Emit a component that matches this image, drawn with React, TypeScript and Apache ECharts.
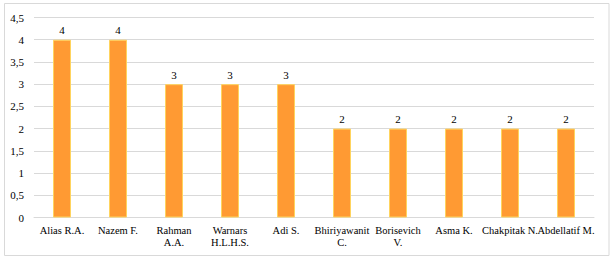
import React, { useEffect, useRef } from "react";
import * as echarts from "echarts";

const categories = [
  "Alias R.A.",
  "Nazem F.",
  "Rahman\nA.A.",
  "Warnars\nH.L.H.S.",
  "Adi S.",
  "Bhiriyawanit\nC.",
  "Borisevich\nV.",
  "Asma K.",
  "Chakpitak N.",
  "Abdellatif M.",
];
const values = [4, 4, 3, 3, 3, 2, 2, 2, 2, 2];
const yMin = 0;
const yMax = 4.5;
const yInterval = 0.5;

const FONT = "Liberation Serif, Times New Roman, serif";

export default function App() {
  const ref = useRef<HTMLDivElement>(null);
  useEffect(() => {
    if (!ref.current) return;
    const chart = echarts.init(ref.current, undefined, { renderer: "svg" });
    chart.setOption({
      animation: false,
      backgroundColor: "#ffffff",
      textStyle: { fontFamily: FONT },
      graphic: [
        {
          type: "rect",
          shape: { x: 4.5, y: 3.5, width: 604.5, height: 252 },
          style: { fill: "none", stroke: "#D9D9D9", lineWidth: 1 },
          silent: true,
        },
      ],
      grid: { left: 34, right: 21, top: 17.5, bottom: 38.5, containLabel: false },
      xAxis: {
        type: "category",
        data: categories,
        axisLine: { show: true, lineStyle: { color: "#D9D9D9", width: 1 } },
        axisTick: { show: false },
        axisLabel: {
          interval: 0,
          hideOverlap: false,
          color: "#000000",
          fontFamily: FONT,
          fontSize: 10.5,
          margin: 7,
          lineHeight: 12,
        },
      },
      yAxis: {
        type: "value",
        min: yMin,
        max: yMax,
        interval: yInterval,
        axisLine: { show: false },
        axisTick: { show: false },
        splitLine: { show: true, lineStyle: { color: "#D9D9D9", width: 1 } },
        axisLabel: {
          color: "#000000",
          fontFamily: FONT,
          fontSize: 11,
          margin: 10,
          formatter: (v: number) => String(v).replace(".", ","),
        },
      },
      series: [
        {
          type: "bar",
          data: values,
          barWidth: 18,
          itemStyle: { color: "#FF9A33", borderColor: "#FFD45E", borderWidth: 1 },
          label: {
            show: true,
            position: "top",
            distance: 4,
            color: "#000000",
            fontFamily: FONT,
            fontSize: 11,
          },
        },
      ],
    });
    return () => chart.dispose();
  }, []);
  return (
    <div
      ref={ref}
      style={{ position: "fixed", left: 0, top: 0, width: 615, height: 256 }}
    />
  );
}
